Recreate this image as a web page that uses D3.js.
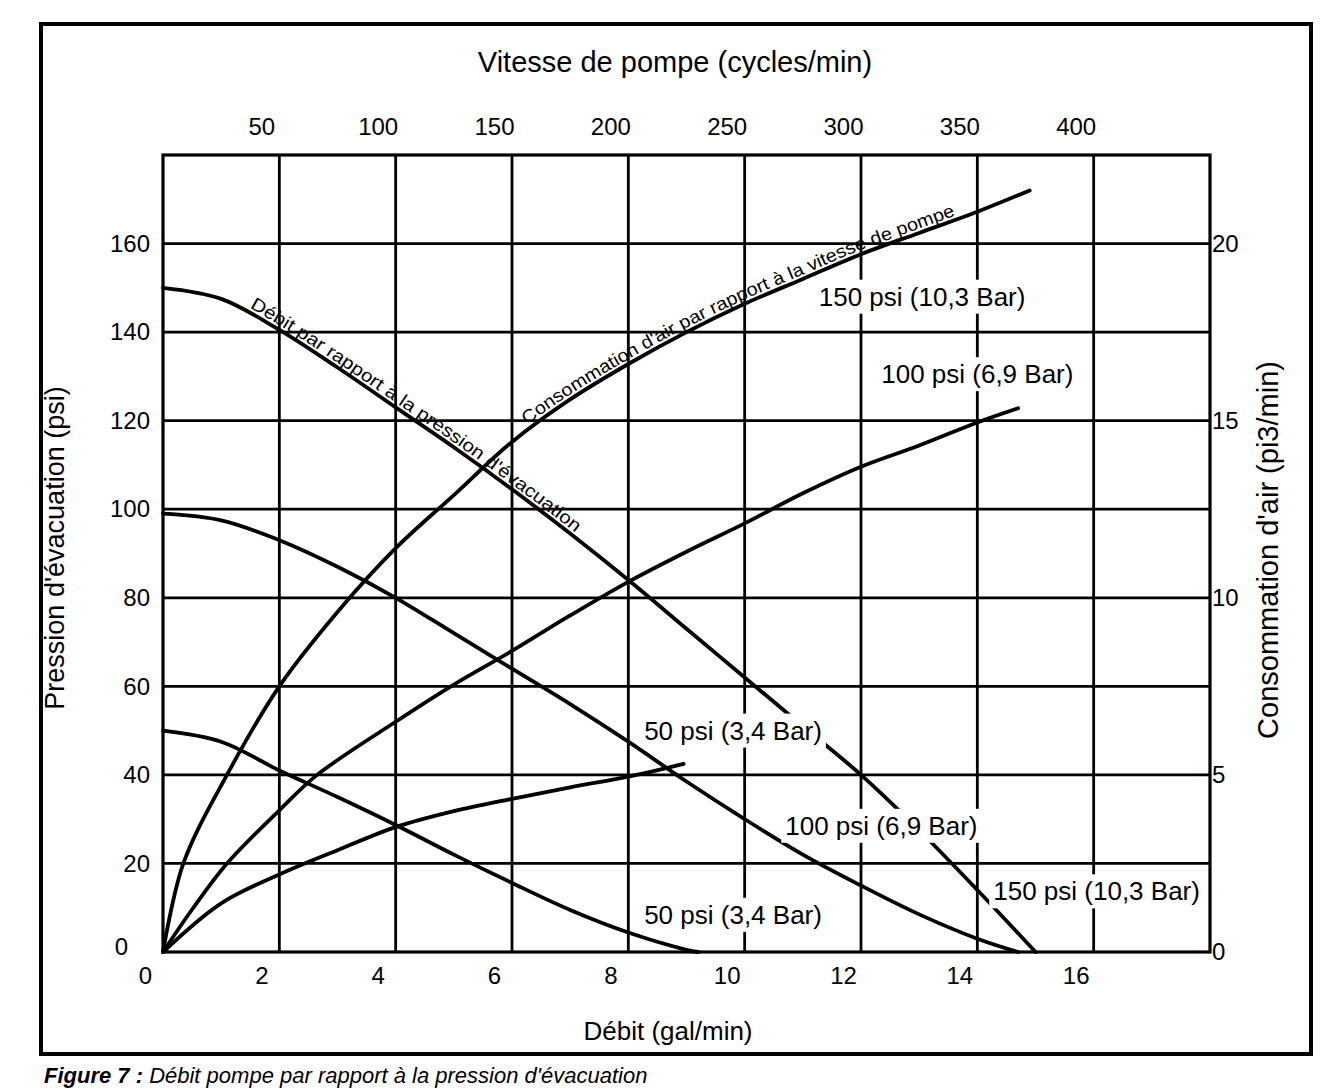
<!DOCTYPE html>
<html>
<head>
<meta charset="utf-8">
<script src="https://cdn.jsdelivr.net/npm/d3@7"></script>
<style>
  html, body { margin: 0; padding: 0; background: #fff; }
  svg { display: block; }
  text { font-family: "Liberation Sans", Arial, Helvetica, sans-serif; fill: #000; }
</style>
</head>
<body>
<svg id="chart" width="1325" height="1089"></svg>
<script>
// ---------------- data ----------------
const flowTicks = [0, 2, 4, 6, 8, 10, 12, 14, 16];            // Débit (gal/min)
const speedTicks = [50, 100, 150, 200, 250, 300, 350, 400];   // Vitesse de pompe (cycles/min)
const pressureTicks = [0, 20, 40, 60, 80, 100, 120, 140, 160]; // Pression d'évacuation (psi)
const airTicks = [0, 5, 10, 15, 20];                          // Consommation d'air (pi3/min)

// discharge pressure (psi) vs flow (gal/min) for 3 supply pressures
const flowGpm150 = [0, 1, 2, 3, 4, 5, 6, 7, 8, 9, 10, 11, 12, 13, 14, 15];
const pressure150 = [150, 147.5, 140.5, 132, 123, 114, 104.5, 94.5, 84, 73, 62, 51, 40, 27.5, 14, 0];
const flowGpm100 = [0, 1, 2, 3, 4, 5, 6, 7, 8, 9, 10, 11, 12, 13, 14, 14.7];
const pressure100 = [99, 97.5, 93, 87, 80, 72, 64, 56, 47.5, 38.5, 30, 22, 15, 8.5, 3, 0];
const flowGpm50 = [0, 1, 2, 3, 4, 5, 6, 7, 8, 9, 9.2];
const pressure50 = [50, 47.5, 41, 35, 28.7, 22, 15.6, 9.5, 4.4, 0.5, 0];

// air consumption (pi3/min) vs flow (gal/min) for 3 supply pressures
const airFlow150 = [0, 0.35, 1.1, 2, 3, 4, 5, 6, 7, 8, 9, 10, 11, 12, 13, 14, 14.9];
const air150 = [0, 2.5, 5, 7.5, 9.6, 11.4, 12.9, 14.4, 15.6, 16.6, 17.5, 18.3, 19, 19.7, 20.3, 20.9, 21.5];
const airFlow100 = [0, 0.5, 1.1, 2, 2.65, 4, 5, 6, 7, 8, 9, 10, 11, 12, 13, 14, 14.7];
const air100 = [0, 1.2, 2.5, 4.0, 5, 6.5, 7.55, 8.5, 9.5, 10.45, 11.3, 12.1, 12.95, 13.7, 14.3, 14.95, 15.35];
const airFlow50 = [0, 1, 2, 3, 4, 5, 6, 7, 8, 8.95];
const air50 = [0, 1.375, 2.19, 2.875, 3.525, 3.975, 4.325, 4.65, 4.95, 5.31];

const curveLabels = ["150 psi (10,3 Bar)", "100 psi (6,9 Bar)", "50 psi (3,4 Bar)",
                     "100 psi (6,9 Bar)", "50 psi (3,4 Bar)", "150 psi (10,3 Bar)"];

// ---------------- layout ----------------
const P = { left: 163, right: 1210, top: 155, bottom: 952 };
const svg = d3.select("#chart");

const x = d3.scaleLinear().domain([0, 18]).range([P.left, P.right]);
const y = d3.scaleLinear().domain([0, 180]).range([P.bottom, P.top]);
const yR = d3.scaleLinear().domain([0, 22.5]).range([P.bottom, P.top]);
const xTop = d3.scaleLinear().domain([0, 450]).range([P.left, P.right]);

// outer frame
svg.append("rect").attr("x", 41).attr("y", 24).attr("width", 1270).attr("height", 1030)
  .attr("fill", "none").attr("stroke", "#000").attr("stroke-width", 4);

// caption
const cap = svg.append("text").attr("x", 44).attr("y", 1083)
  .attr("font-size", 22).attr("font-style", "italic");
cap.append("tspan").attr("font-weight", "bold").text("Figure 7 : ");
cap.append("tspan").text("Débit pompe par rapport à la pression d'évacuation");

// grid
const g = svg.append("g");
g.selectAll("line.v").data(flowTicks.filter(d => d > 0)).join("line")
  .attr("x1", d => x(d)).attr("x2", d => x(d)).attr("y1", P.top).attr("y2", P.bottom)
  .attr("stroke", "#000").attr("stroke-width", 2.8);
g.selectAll("line.h").data(pressureTicks.filter(d => d > 0)).join("line")
  .attr("x1", P.left).attr("x2", P.right).attr("y1", d => y(d)).attr("y2", d => y(d))
  .attr("stroke", "#000").attr("stroke-width", 2.8);
g.append("rect").attr("x", P.left).attr("y", P.top)
  .attr("width", P.right - P.left).attr("height", P.bottom - P.top)
  .attr("fill", "none").attr("stroke", "#000").attr("stroke-width", 3.2);

// axes (labels only)
const tickFont = 24;
const axB = svg.append("g").attr("transform", `translate(0,${P.bottom})`)
  .call(d3.axisBottom(x).tickValues(flowTicks).tickSize(0).tickPadding(0));
axB.selectAll("text").attr("font-size", tickFont).attr("dx", -18).attr("y", 15);
const axT = svg.append("g").attr("transform", `translate(0,${P.top})`)
  .call(d3.axisTop(xTop).tickValues(speedTicks).tickSize(0).tickPadding(0));
axT.selectAll("text").attr("font-size", tickFont).attr("dx", -18).attr("y", -20);
const axL = svg.append("g").attr("transform", `translate(${P.left},0)`)
  .call(d3.axisLeft(y).tickValues(pressureTicks).tickSize(0).tickPadding(13));
axL.selectAll("text").attr("font-size", tickFont);
axL.selectAll("text").filter(d => d === 0).attr("dx", -22).attr("dy", "0.1em");
const axR = svg.append("g").attr("transform", `translate(${P.right},0)`)
  .call(d3.axisRight(yR).tickValues(airTicks).tickSize(0).tickPadding(2));
axR.selectAll("text").attr("font-size", tickFont);
[axB, axT, axL, axR].forEach(a => { a.select(".domain").remove(); a.attr("font-family", null); });

// axis titles
svg.append("text").attr("x", 675).attr("y", 72).attr("text-anchor", "middle")
  .attr("font-size", 29).text("Vitesse de pompe (cycles/min)");
svg.append("text").attr("x", 668).attr("y", 1040).attr("text-anchor", "middle")
  .attr("font-size", 26).text("Débit (gal/min)");
svg.append("text").attr("transform", "translate(64,548) rotate(-90)").attr("text-anchor", "middle")
  .attr("font-size", 27).text("Pression d'évacuation (psi)");
svg.append("text").attr("transform", "translate(1278,550) rotate(-90)").attr("text-anchor", "middle")
  .attr("font-size", 29).text("Consommation d'air (pi3/min)");

// curves
const smooth = d3.curveCatmullRom.alpha(0.5);
const lineP = d3.line().x(d => x(d[0])).y(d => y(d[1])).curve(smooth);
const lineA = d3.line().x(d => x(d[0])).y(d => yR(d[1])).curve(smooth);
const zip = (a, b) => a.map((v, i) => [v, b[i]]);
const curves = svg.append("g").attr("fill", "none").attr("stroke", "#000")
  .attr("stroke-width", 3.8).attr("stroke-linecap", "round");
const p150 = curves.append("path").attr("id", "d150").attr("d", lineP(zip(flowGpm150, pressure150)));
curves.append("path").attr("d", lineP(zip(flowGpm100, pressure100)));
curves.append("path").attr("d", lineP(zip(flowGpm50, pressure50)));
const a150 = curves.append("path").attr("id", "a150").attr("d", lineA(zip(airFlow150, air150)));
curves.append("path").attr("d", lineA(zip(airFlow100, air100)));
curves.append("path").attr("d", lineA(zip(airFlow50, air50)));

// helper: length along path where x reaches a pixel value
function lengthAtX(pathNode, px) {
  let lo = 0, hi = pathNode.getTotalLength();
  for (let i = 0; i < 40; i++) {
    const mid = (lo + hi) / 2;
    if (pathNode.getPointAtLength(mid).x < px) lo = mid; else hi = mid;
  }
  return lo;
}
function pathLabel(node, id, x0, x1, str) {
  const s = lengthAtX(node, x(x0)), e = lengthAtX(node, x(x1));
  svg.append("text").attr("font-size", 18).attr("dy", -4)
    .append("textPath").attr("href", "#" + id)
    .attr("startOffset", s).attr("textLength", e - s).attr("lengthAdjust", "spacingAndGlyphs")
    .text(str);
}
pathLabel(p150.node(), "d150", 1.45, 7.05, "Débit par rapport à la pression d'évacuation");
pathLabel(a150.node(), "a150", 6.3, 13.65, "Consommation d'air par rapport à la vitesse de pompe");

// curve labels with white knock-out background
const labelPos = [[13.05, 148], [14.0, 130.5], [9.8, 50], [12.35, 28.5], [9.8, 8.4], [16.05, 13.7]];
const lg = svg.append("g");
curveLabels.forEach((t, i) => {
  const grp = lg.append("g");
  const txt = grp.append("text").attr("x", x(labelPos[i][0])).attr("y", y(labelPos[i][1]))
    .attr("text-anchor", "middle").attr("dominant-baseline", "central")
    .attr("font-size", 26).text(t);
  const b = txt.node().getBBox();
  grp.insert("rect", "text").attr("x", b.x - 4).attr("y", b.y - 2)
    .attr("width", b.width + 8).attr("height", b.height + 4).attr("fill", "#fff");
});
</script>
</body>
</html>
